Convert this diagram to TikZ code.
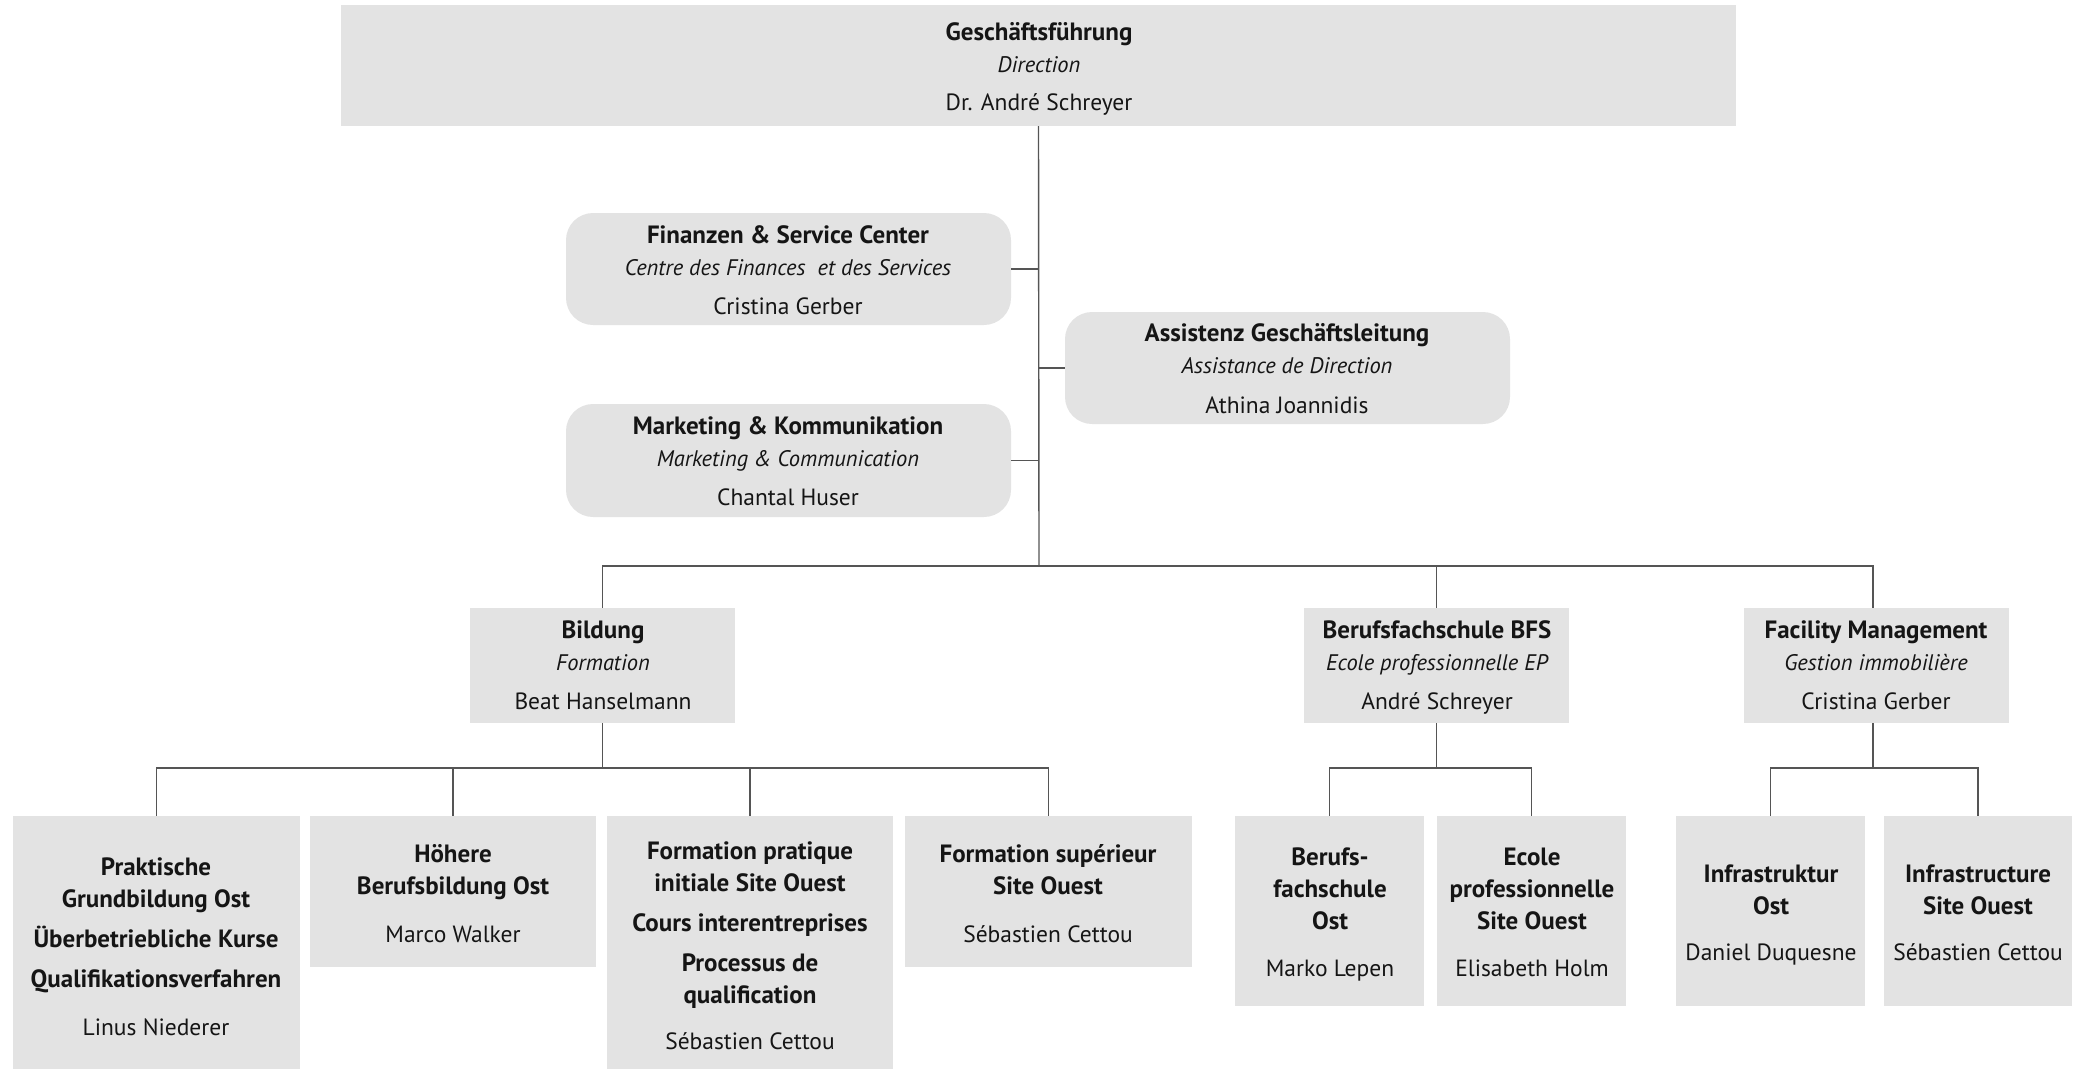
\documentclass[tikz,border=0pt]{standalone}
\usepackage{fontspec}
\setmainfont{PT Sans}
\usetikzlibrary{fit}
\definecolor{boxgray}{HTML}{E3E3E3}
\definecolor{linegray}{HTML}{555555}
\definecolor{txt}{HTML}{151515}
\begin{document}
\begin{tikzpicture}[x=1pt,y=-1pt,
  box/.style={fill=boxgray, draw=none, inner sep=0pt, fit={#1}},
  rbox/.style={box={#1}, rounded corners=27pt},
  conn/.style={draw=linegray, line width=1.4pt},
  tb/.style={font=\fontsize{25}{28}\selectfont\bfseries, text=txt, inner sep=0pt, anchor=base},
  ti/.style={font=\fontsize{22.5}{26}\selectfont\itshape, text=txt, inner sep=0pt, anchor=base},
  tr/.style={font=\fontsize{23.5}{27}\selectfont, text=txt, inner sep=0pt, anchor=base}]
\useasboundingbox (0,0) rectangle (2083,1069);

% boxes
\node[box={(341,5) (1736,126)}] (top) {};
\node[rbox={(566,213) (1011,325)}] (fin) {};
\node[rbox={(566,404) (1011,517)}] (mkt) {};
\node[rbox={(1065,312) (1510,424)}] (ass) {};
\node[box={(470,608) (735,723)}] (bild) {};
\node[box={(1304,608) (1569,723)}] (bfs) {};
\node[box={(1744,608) (2009,723)}] (fac) {};
\node[box={(13,816) (300,1069)}] (b1) {};
\node[box={(310,816) (596,967)}] (b2) {};
\node[box={(607,816) (893,1069)}] (b3) {};
\node[box={(905,816) (1192,967)}] (b4) {};
\node[box={(1235,816) (1424,1006)}] (b5) {};
\node[box={(1437,816) (1626,1006)}] (b6) {};
\node[box={(1676,816) (1865,1006)}] (b7) {};
\node[box={(1884,816) (2072,1006)}] (b8) {};

% junctions
\coordinate (j1) at (1039,566);
\coordinate (j2) at (603,768);
\coordinate (j3) at (1437,768);
\coordinate (j4) at (1873,768);

% connectors
\draw[conn] (top.south) -- (j1);
\draw[conn] (fin.east) -- (fin.east -| j1);
\draw[conn] (mkt.east) -- (mkt.east -| j1);
\draw[conn] (ass.west) -- (ass.west -| j1);
\draw[conn] (bild.north) -- (bild.north |- j1) -- (j4 |- j1) -- (j4 |- fac.north);
\draw[conn] (bfs.north) -- (bfs.north |- j1);
\draw[conn] (bild.south) -- (bild.south |- j2);
\draw[conn] (b1.north) -- (b1.north |- j2) -- (b4.north |- j2) -- (b4.north);
\draw[conn] (b2.north) -- (b2.north |- j2);
\draw[conn] (b3.north) -- (b3.north |- j2);
\draw[conn] (bfs.south) -- (bfs.south |- j3);
\draw[conn] (b5.north) -- (b5.north |- j3) -- (b6.north |- j3) -- (b6.north);
\draw[conn] (j4 |- fac.south) -- (j4);
\draw[conn] (b7.north) -- (b7.north |- j4) -- (b8.north |- j4) -- (b8.north);

% texts
\node[tb] (t1) at (1039,40) {Geschäftsführung};
\node[ti] (t2) at (1039,72) {Direction};
\node[tr] (t3) at (1039,110) {Dr. André Schreyer};

\node[tb] (f1) at (788,243) {Finanzen \& Service Center};
\node[ti] (f2) at (788,275) {Centre des Finances\ \ et des Services};
\node[tr] (f3) at (788,314) {Cristina Gerber};

\node[tb] (m1) at (788,434) {Marketing \& Kommunikation};
\node[ti] (m2) at (788,466) {Marketing \& Communication};
\node[tr] (m3) at (788,505) {Chantal Huser};

\node[tb] (a1) at (1287,341) {Assistenz Geschäftsleitung};
\node[ti] (a2) at (1287,373) {Assistance de Direction};
\node[tr] (a3) at (1287,413) {Athina Joannidis};

\node[tb] (bi1) at (603,638) {Bildung};
\node[ti] (bi2) at (603,670) {Formation};
\node[tr] (bi3) at (603,709) {Beat Hanselmann};

\node[tb] (bf1) at (1437,638) {Berufsfachschule BFS};
\node[ti] (bf2) at (1437,670) {Ecole professionnelle EP};
\node[tr] (bf3) at (1437,709) {André Schreyer};

\node[tb] (fa1) at (1876,638) {Facility Management};
\node[ti] (fa2) at (1876,670) {Gestion immobilière};
\node[tr] (fa3) at (1876,709) {Cristina Gerber};

\node[tb] (x11) at (156,875) {Praktische};
\node[tb] (x12) at (156,907) {Grundbildung Ost};
\node[tb] (x13) at (156,947) {Überbetriebliche Kurse};
\node[tb] (x14) at (156,987) {Qualifikationsverfahren};
\node[tr] (x15) at (156,1035) {Linus Niederer};

\node[tb] (x21) at (453,862) {Höhere};
\node[tb] (x22) at (453,894) {Berufsbildung Ost};
\node[tr] (x23) at (453,942) {Marco Walker};

\node[tb] (x31) at (750,859) {Formation pratique};
\node[tb] (x32) at (750,891) {initiale Site Ouest};
\node[tb] (x33) at (750,931) {Cours interentreprises};
\node[tb] (x34) at (750,971) {Processus de};
\node[tb] (x35) at (750,1003) {qualification};
\node[tr] (x36) at (750,1049) {Sébastien Cettou};

\node[tb] (x41) at (1048,862) {Formation supérieur};
\node[tb] (x42) at (1048,894) {Site Ouest};
\node[tr] (x43) at (1048,942) {Sébastien Cettou};

\node[tb] (x51) at (1330,865) {Berufs-};
\node[tb] (x52) at (1330,897) {fachschule};
\node[tb] (x53) at (1330,929) {Ost};
\node[tr] (x54) at (1330,976) {Marko Lepen};

\node[tb] (x61) at (1532,865) {Ecole};
\node[tb] (x62) at (1532,897) {professionnelle};
\node[tb] (x63) at (1532,929) {Site Ouest};
\node[tr] (x64) at (1532,976) {Elisabeth Holm};

\node[tb] (x71) at (1771,882) {Infrastruktur};
\node[tb] (x72) at (1771,914) {Ost};
\node[tr] (x73) at (1771,960) {Daniel Duquesne};

\node[tb] (x81) at (1978,882) {Infrastructure};
\node[tb] (x82) at (1978,914) {Site Ouest};
\node[tr] (x83) at (1978,960) {Sébastien Cettou};
\end{tikzpicture}
\end{document}
